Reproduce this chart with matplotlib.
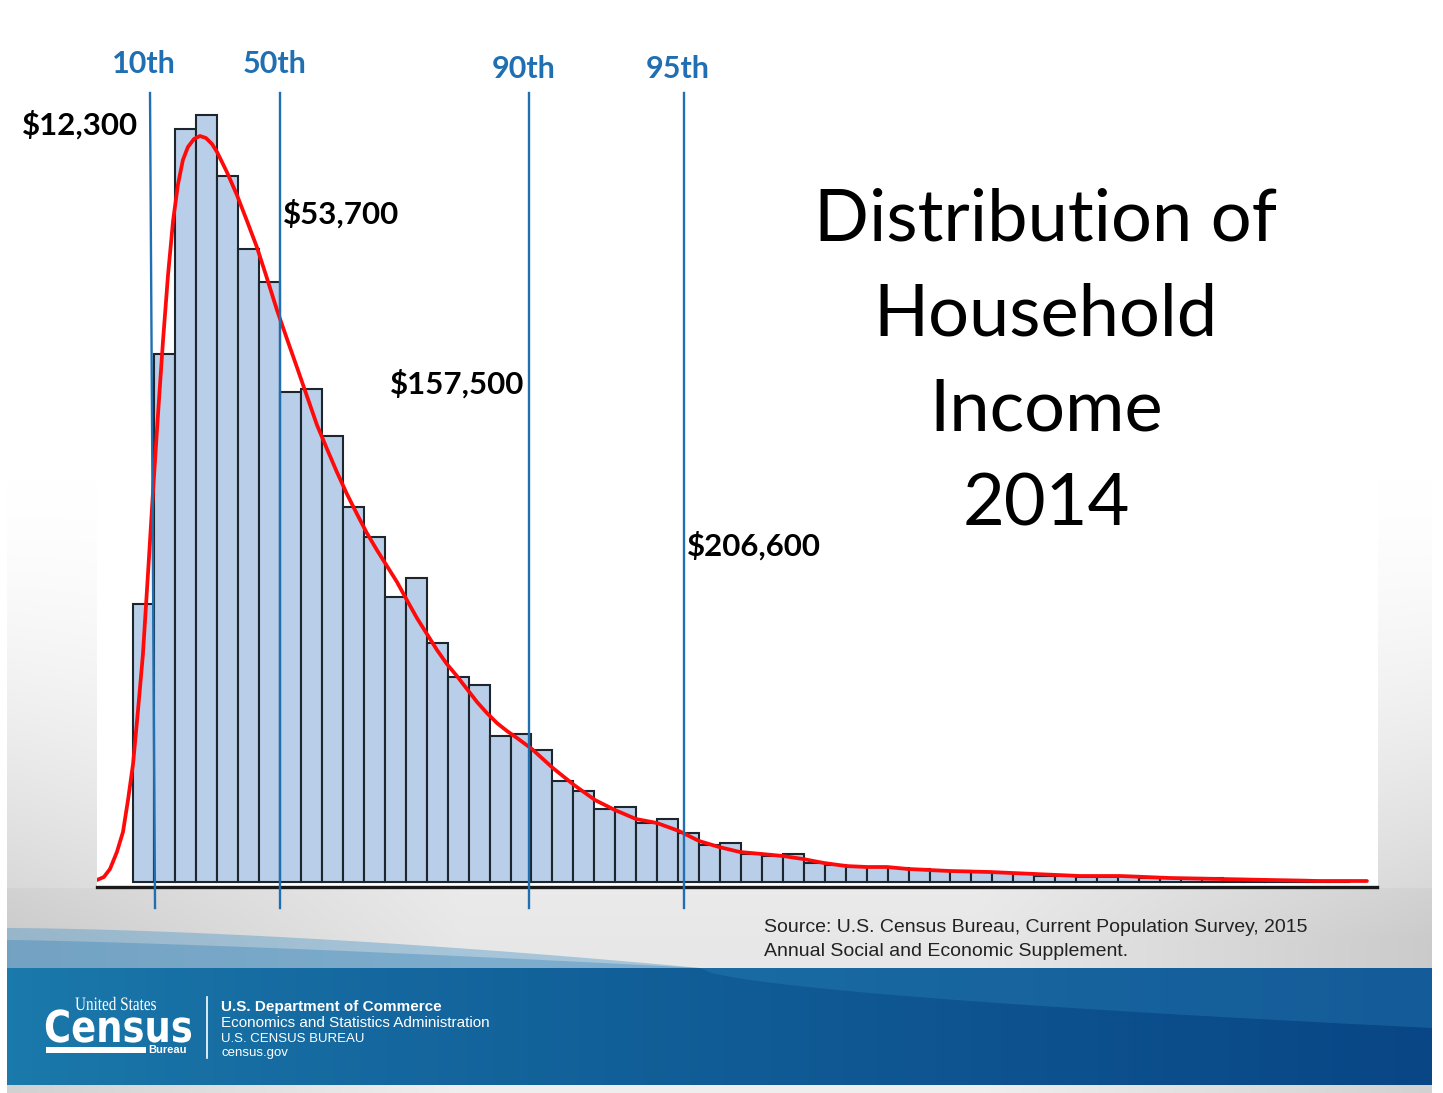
import matplotlib.pyplot as plt
import numpy as np
from matplotlib.patches import Rectangle, Polygon, PathPatch
from matplotlib.textpath import TextPath
from matplotlib.font_manager import FontProperties
from matplotlib.transforms import Affine2D

# Histogram bars (one per bin, bin index order), height in chart units
bar_heights = [278, 528, 753, 767, 706, 633, 600, 490, 493, 446,
               375, 345, 285, 304, 239, 205, 197, 146, 148, 132,
               101, 91, 73, 75, 59, 63, 49, 37, 39, 28,
               26, 28, 19, 17, 15, 15, 14, 13, 11, 11,
               10, 9, 8, 6, 6, 5, 5, 6, 4, 4,
               4, 4, 3, 2, 2, 2, 1, 1]

# Smoothed density curve (red), x in bin units
curve_x = [-1.74, -1.41, -1.12, -0.79, -0.50, -0.26, -0.02, 0.21, 0.45, 0.69,
           0.93, 1.17, 1.41, 1.65, 1.89, 2.12, 2.36, 2.60, 2.89, 3.17,
           3.46, 3.75, 3.99, 4.46, 4.94, 5.42, 5.89, 6.37, 6.85, 7.33,
           7.80, 8.28, 8.76, 9.24, 9.71, 10.19, 10.67, 11.14, 11.62, 12.10,
           12.58, 13.05, 13.53, 14.01, 14.49, 14.96, 15.44, 15.92, 16.40, 16.87,
           17.35, 17.83, 18.31, 19.02, 20.02, 21.03, 22.03, 22.98, 23.99, 24.99,
           26.04, 27.00, 27.95, 28.95, 30.00, 31.00, 31.96, 32.96, 34.01, 35.01,
           35.97, 36.97, 38.97, 40.88, 43.03, 45.18, 47.09, 49.48, 51.86, 54.25,
           56.64, 58.88]
curve_y = [2, 5, 13, 30, 50, 82, 118, 170, 227, 307,
           389, 467, 541, 607, 661, 697, 722, 735, 743, 746,
           744, 738, 730, 710, 687, 661, 635, 604, 572, 543,
           515, 486, 457, 433, 410, 388, 368, 349, 332, 316,
           300, 282, 264, 248, 232, 218, 206, 193, 180, 169,
           159, 151, 144, 133, 114, 97, 82, 72, 63, 59,
           51, 41, 35, 30, 28, 26, 23, 19, 16, 15,
           15, 13, 11, 10, 8, 6, 6, 4, 3, 2,
           1, 1]

# Percentile markers (x in bin units; the 10th line leans slightly)
pct_names = ['10th', '50th', '90th', '95th']
pct_values = ['$12,300', '$53,700', '$157,500', '$206,600']
pct_x_top = [0.79, 6.99, 18.88, 26.28]
pct_x_bottom = [1.03, 6.99, 18.88, 26.28]

title_lines = ['Distribution of', 'Household', 'Income', '2014']
source_lines = ['Source: U.S. Census Bureau, Current Population Survey, 2015',
                'Annual Social and Economic Supplement.']
footer_lines = ['U.S. Department of Commerce', 'Economics and Statistics Administration',
                'U.S. CENSUS BUREAU', 'census.gov']

W, H = 1443, 1093
fig = plt.figure(figsize=(W / 100, H / 100), dpi=100)
fig.patch.set_facecolor('white')

# ---- slide background (pixel coordinates) ----
bg = fig.add_axes([0, 0, 1, 1])
bg.set_xlim(0, W)
bg.set_ylim(H, 0)
bg.axis('off')

yy, xx = np.mgrid[0:H, 0:W]
t = np.clip((yy - 480) / 460.0, 0, 1) ** 1.5
edge = np.clip(1 - np.minimum(xx - 7, 1432 - xx) / 700.0, 0.35, 1)
grey = 255 - 46 * t * edge
img = np.dstack([grey, grey, grey]) / 255.0
inside = (xx >= 97) & (xx <= 1377) & (yy <= 887)
img[inside] = 1.0
below = (yy > 887) & (yy < 968)
img[below] = img[below] * 0.97
img[:, :7] = 1.0
img[:, 1432:] = 1.0
bg.imshow(img, extent=[0, W, H, 0], aspect='auto', zorder=0)

# decorative wave above the footer
wx = np.linspace(7, 700, 60)
wave_top = 928 + 40 * ((wx - 7) / 693.0) ** 1.6
bg.add_patch(Polygon(np.column_stack([np.r_[wx, 700, 7], np.r_[wave_top, 968, 968]]),
                     closed=True, facecolor='#5a9cc8', alpha=0.45, edgecolor='none', zorder=1))
wave_top2 = 940 + 28 * ((wx - 7) / 693.0) ** 1.3
bg.add_patch(Polygon(np.column_stack([np.r_[wx, 700, 7], np.r_[wave_top2, 968, 968]]),
                     closed=True, facecolor='#2f7fb6', alpha=0.35, edgecolor='none', zorder=1))

# footer band with horizontal gradient
fx = np.linspace(0, 1, 400)
c_left = np.array([27, 122, 172]) / 255.0
c_right = np.array([9, 70, 134]) / 255.0
band = (c_left[None, :] * (1 - fx[:, None] ** 0.8) + c_right[None, :] * fx[:, None] ** 0.8)[None, :, :]
bg.imshow(band, extent=[7, 1432, 1085, 968], aspect='auto', zorder=2)
arc_x = np.linspace(700, 1432, 60)
arc_y = 968 + 60 * ((arc_x - 700) / 732.0) ** 0.6
bg.add_patch(Polygon(np.column_stack([np.r_[700, arc_x, 1432], np.r_[968, arc_y, 968]]),
                     closed=True, facecolor='#2a86bd', alpha=0.35, edgecolor='none', zorder=3))

# Census logo
fp_logo = FontProperties(family='DejaVu Sans', weight='bold')
tp = TextPath((0, 0), 'Census', size=44, prop=fp_logo)
tr = Affine2D().scale(0.84, -1).translate(44, 1042)
bg.add_patch(PathPatch(tr.transform_path(tp), facecolor='white', edgecolor='none', zorder=4))
fp_us = FontProperties(family='Liberation Serif')
tp2 = TextPath((0, 0), 'United States', size=19, prop=fp_us)
tr2 = Affine2D().scale(0.8, -1).translate(75, 1010)
bg.add_patch(PathPatch(tr2.transform_path(tp2), facecolor='white', edgecolor='none', zorder=4))
bg.add_patch(Rectangle((46, 1046.5), 100, 6, facecolor='white', edgecolor='none', zorder=4))
bg.text(148, 1050, 'Bureau', color='white', fontsize=8, family='Liberation Sans',
        weight='bold', va='center', ha='left', zorder=4)
bg.plot([207, 207], [997, 1058], color='white', lw=1.2, zorder=4)
for i, line in enumerate(footer_lines):
    bg.text(221, 1007 + 16 * i - (2 if i == 3 else 0), line, color='white',
            fontsize=11 if i < 2 else 9.5, family='Liberation Sans',
            weight='bold' if i == 0 else 'normal', va='center', ha='left', zorder=4)

# ---- chart ----
ax = fig.add_axes([97 / W, (H - 887) / H, 1280 / W, 794 / H])
ax.set_facecolor('none')
ax.bar(np.arange(len(bar_heights)), bar_heights, width=1, align='edge',
       color='#b9cee8', edgecolor='#1e262d', linewidth=1.5, zorder=2)
ax.plot(curve_x, curve_y, color='#ff0a0a', lw=2.7, zorder=3,
        solid_capstyle='round', solid_joinstyle='round')
for xt, xb in zip(pct_x_top, pct_x_bottom):
    ax.plot([xt, xb], [789, -26], color='#1f6fb2', lw=1.7, zorder=4, clip_on=False)
ax.set_xlim(-1.74, 59.36)
ax.set_ylim(-5, 789)
for s in ['left', 'right', 'top']:
    ax.spines[s].set_visible(False)
ax.spines['bottom'].set_linewidth(2.4)
ax.spines['bottom'].set_color('#1a1a1a')
ax.set_xticks([])
ax.set_yticks([])

# ---- texts (pixel positions) ----
name_pos = [(144, 64), (275, 64), (524, 69), (678, 69)]
for name, (px, py) in zip(pct_names, name_pos):
    fig.text(px, py, name, transform=bg.transData, ha='center', va='center',
             color='#1f6fb2', fontsize=22, weight='bold', family='Lato')
value_pos = [(22, 125), (283, 214), (390, 384), (687, 546)]
for val, (px, py) in zip(pct_values, value_pos):
    fig.text(px, py, val, transform=bg.transData, ha='left', va='center',
             color='black', fontsize=22.5, weight='bold', family='Lato')
for i, line in enumerate(title_lines):
    fig.text(1046, 220 + 95 * i, line, transform=bg.transData, ha='center', va='center',
             color='black', fontsize=52, family='Lato')
for i, line in enumerate(source_lines):
    fig.text(764, 928 + 24 * i, line, transform=bg.transData, ha='left', va='center',
             color='#222222', fontsize=14, family='Liberation Sans')

fig.savefig('out.png', dpi=100)
